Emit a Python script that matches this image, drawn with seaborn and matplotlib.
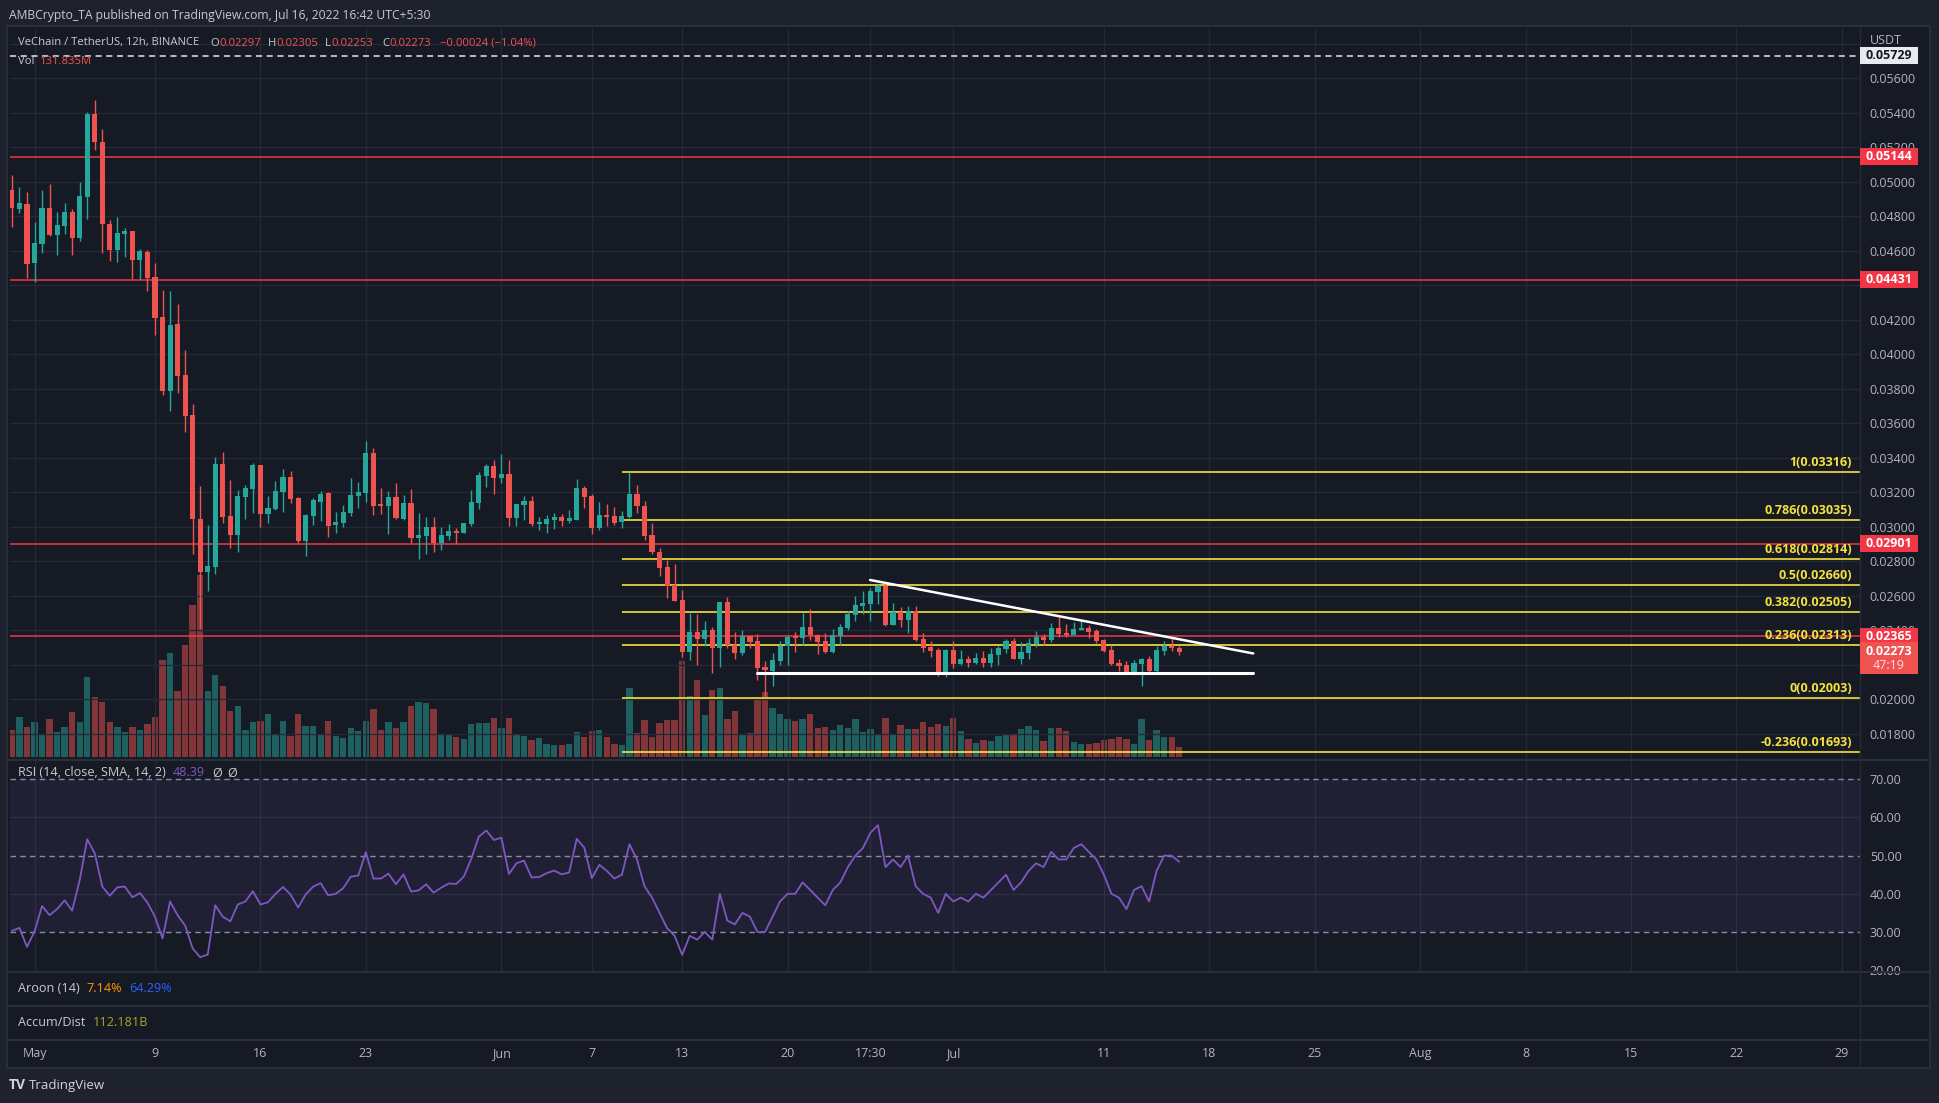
import numpy as np
import pandas as pd
import matplotlib
matplotlib.use("Agg")
import matplotlib.pyplot as plt
import seaborn as sns
from matplotlib.patches import Rectangle
from matplotlib.lines import Line2D
from matplotlib.transforms import blended_transform_factory

# ---------------- data ----------------
first_candle = "2022-04-29 12:00"
open_ = [0.04951,0.04841,0.04870,0.04530,0.04640,0.04847,0.04690,0.04744,0.04823,0.04673,
         0.04910,0.05391,0.05229,0.04754,0.04603,0.04696,0.04713,0.04545,0.04591,0.04447,
         0.04215,0.03786,0.04174,0.03879,0.03646,0.03044,0.02738,0.02767,0.03362,0.03061,
         0.02953,0.03173,0.03219,0.03357,0.03075,0.03101,0.03202,0.03287,0.03165,0.02916,
         0.03063,0.03144,0.03194,0.03011,0.03022,0.03080,0.03179,0.03196,0.03426,0.03125,
         0.03121,0.03171,0.03046,0.03136,0.02935,0.02947,0.02997,0.02904,0.02947,0.02974,
         0.02964,0.03016,0.03138,0.03293,0.03351,0.03281,0.03304,0.03049,0.03125,0.03148,
         0.03015,0.03015,0.03038,0.03055,0.03032,0.03038,0.03223,0.03177,0.02991,0.03067,
         0.03061,0.03026,0.03055,0.03189,0.03119,0.02951,0.02852,0.02765,0.02663,0.02574,
         0.02275,0.02391,0.02350,0.02402,0.02298,0.02562,0.02315,0.02269,0.02367,0.02338,
         0.02188,0.02165,0.02222,0.02307,0.02360,0.02356,0.02418,0.02371,0.02336,0.02273,
         0.02365,0.02412,0.02487,0.02539,0.02551,0.02620,0.02655,0.02429,0.02504,0.02458,
         0.02510,0.02348,0.02302,0.02284,0.02157,0.02284,0.02203,0.02232,0.02209,0.02238,
         0.02209,0.02255,0.02290,0.02336,0.02232,0.02267,0.02319,0.02360,0.02342,0.02412,
         0.02383,0.02371,0.02400,0.02412,0.02394,0.02342,0.02284,0.02209,0.02197,0.02145,
         0.02203,0.02232,0.02162,0.02279,0.02307,0.02297]
high = [0.05038,0.04968,0.04939,0.04765,0.04951,0.04986,0.04823,0.04875,0.04841,0.04997,
        0.05403,0.05472,0.05304,0.04777,0.04794,0.04731,0.04713,0.04609,0.04603,0.04528,
        0.04371,0.04365,0.04290,0.04024,0.03710,0.03235,0.03009,0.03403,0.03432,0.03270,
        0.03212,0.03241,0.03368,0.03357,0.03177,0.03264,0.03333,0.03322,0.03171,0.03073,
        0.03165,0.03206,0.03200,0.03084,0.03125,0.03281,0.03258,0.03496,0.03455,0.03223,
        0.03206,0.03252,0.03183,0.03218,0.03078,0.03055,0.03055,0.02997,0.03015,0.02991,
        0.03020,0.03212,0.03316,0.03362,0.03386,0.03420,0.03386,0.03131,0.03177,0.03177,
        0.03055,0.03067,0.03078,0.03073,0.03096,0.03275,0.03235,0.03189,0.03142,0.03131,
        0.03113,0.03090,0.03316,0.03241,0.03148,0.03020,0.02876,0.02806,0.02783,0.02632,
        0.02501,0.02493,0.02452,0.02420,0.02562,0.02593,0.02391,0.02402,0.02367,0.02379,
        0.02223,0.02267,0.02336,0.02371,0.02388,0.02499,0.02522,0.02377,0.02383,0.02406,
        0.02435,0.02510,0.02597,0.02626,0.02644,0.02667,0.02673,0.02557,0.02533,0.02539,
        0.02539,0.02383,0.02336,0.02296,0.02290,0.02336,0.02284,0.02250,0.02267,0.02279,
        0.02296,0.02307,0.02348,0.02354,0.02331,0.02354,0.02394,0.02377,0.02441,0.02481,
        0.02435,0.02447,0.02458,0.02429,0.02406,0.02348,0.02313,0.02232,0.02220,0.02226,
        0.02238,0.02250,0.02307,0.02336,0.02354,0.02305]
low = [0.04738,0.04819,0.04441,0.04420,0.04586,0.04684,0.04574,0.04696,0.04574,0.04655,
       0.04783,0.05183,0.04586,0.04539,0.04534,0.04562,0.04435,0.04429,0.04365,0.04111,
       0.03763,0.03670,0.03774,0.03550,0.02843,0.02408,0.02628,0.02727,0.03022,0.02878,
       0.02854,0.03046,0.03080,0.02999,0.03022,0.03098,0.03086,0.03138,0.02905,0.02831,
       0.03011,0.03034,0.02941,0.02964,0.02999,0.03063,0.03109,0.03142,0.03069,0.03075,
       0.02959,0.03046,0.03040,0.02906,0.02814,0.02843,0.02854,0.02866,0.02924,0.02901,
       0.02964,0.03005,0.03103,0.03229,0.03190,0.03252,0.03003,0.03003,0.03038,0.03003,
       0.02980,0.02962,0.02986,0.03003,0.03020,0.03038,0.03107,0.02957,0.02980,0.03003,
       0.03009,0.02991,0.03050,0.03078,0.02922,0.02841,0.02713,0.02588,0.02570,0.02246,
       0.02228,0.02199,0.02309,0.02153,0.02188,0.02298,0.02234,0.02257,0.02298,0.02112,
       0.02014,0.02078,0.02199,0.02199,0.02273,0.02313,0.02342,0.02261,0.02267,0.02267,
       0.02313,0.02400,0.02452,0.02493,0.02452,0.02551,0.02423,0.02429,0.02418,0.02383,
       0.02336,0.02273,0.02244,0.02134,0.02128,0.02180,0.02197,0.02186,0.02203,0.02186,
       0.02186,0.02197,0.02267,0.02232,0.02203,0.02232,0.02302,0.02313,0.02331,0.02360,
       0.02360,0.02371,0.02400,0.02354,0.02325,0.02273,0.02197,0.02162,0.02145,0.02139,
       0.02076,0.02157,0.02157,0.02255,0.02279,0.02253]
close = [0.04849,0.04875,0.04524,0.04644,0.04847,0.04690,0.04748,0.04823,0.04673,0.04916,
         0.05391,0.05229,0.04754,0.04603,0.04702,0.04713,0.04545,0.04597,0.04441,0.04209,
         0.03786,0.04168,0.03873,0.03643,0.03046,0.02738,0.02771,0.03362,0.03057,0.02953,
         0.03177,0.03223,0.03357,0.03075,0.03107,0.03206,0.03287,0.03162,0.02916,0.03067,
         0.03154,0.03189,0.03005,0.03026,0.03084,0.03183,0.03200,0.03426,0.03121,0.03121,
         0.03171,0.03051,0.03136,0.02935,0.02951,0.02997,0.02904,0.02951,0.02974,0.02964,
         0.03020,0.03142,0.03299,0.03351,0.03281,0.03304,0.03049,0.03131,0.03148,0.03015,
         0.03026,0.03044,0.03055,0.03032,0.03049,0.03223,0.03171,0.02991,0.03067,0.03055,
         0.03020,0.03061,0.03189,0.03119,0.02945,0.02852,0.02760,0.02657,0.02570,0.02275,
         0.02391,0.02350,0.02402,0.02298,0.02562,0.02315,0.02269,0.02367,0.02333,0.02182,
         0.02170,0.02226,0.02307,0.02360,0.02356,0.02418,0.02371,0.02331,0.02273,0.02371,
         0.02418,0.02493,0.02545,0.02557,0.02626,0.02655,0.02429,0.02504,0.02458,0.02510,
         0.02342,0.02296,0.02278,0.02157,0.02284,0.02203,0.02232,0.02209,0.02238,0.02209,
         0.02261,0.02296,0.02336,0.02232,0.02273,0.02325,0.02360,0.02342,0.02412,0.02377,
         0.02371,0.02406,0.02412,0.02389,0.02336,0.02278,0.02203,0.02192,0.02151,0.02209,
         0.02232,0.02162,0.02284,0.02307,0.02296,0.02273]
volume_m = [356,528,396,462,290,502,330,396,594,462,1056,792,726,462,396,330,396,356,436,528,
            1280,1373,871,1478,2006,2402,871,1082,937,607,673,356,462,475,568,290,475,277,568,409,
            409,304,475,277,251,383,343,475,634,356,462,383,462,673,726,713,634,304,290,264,
            238,436,449,449,515,383,515,290,277,224,251,172,158,158,172,330,264,343,356,264,
            172,158,911,317,488,264,449,488,488,1267,805,1016,554,884,911,502,607,304,317,766,
            858,647,568,502,475,502,568,383,396,356,422,383,502,330,370,290,515,304,422,370,
            370,462,396,436,409,515,343,238,185,224,211,277,290,304,370,409,356,211,383,383,
            343,198,172,172,185,224,238,264,238,172,502,224,356,264,264,132]
rsi = [30.3,31.1,26.1,30.1,36.8,34.4,36.0,38.3,35.6,43.6,54.3,50.6,41.9,39.5,41.7,41.9,39.1,40.2,37.7,34.0,
       28.3,38.0,34.4,31.7,25.7,23.4,24.1,37.0,34.0,32.8,37.2,38.0,40.7,37.2,37.8,40.0,41.8,39.8,36.4,39.8,
       41.9,42.8,39.6,40.0,41.5,44.5,44.8,50.9,44.0,44.0,45.3,42.5,45.1,40.6,40.9,42.5,40.3,41.6,42.7,42.6,
       44.5,49.2,55.0,56.6,54.1,54.7,45.2,48.0,48.7,44.3,44.4,45.4,46.1,45.1,45.6,54.4,52.1,44.1,47.6,46.0,
       44.0,45.0,53.0,49.0,42.0,39.0,35.0,31.0,29.0,24.0,29.0,28.0,30.0,28.0,40.0,33.0,32.0,35.0,34.0,30.0,
       30.0,34.0,38.0,40.0,40.0,43.0,41.0,39.0,37.0,41.0,43.0,47.0,50.0,52.0,56.0,58.0,47.0,49.0,47.0,50.0,
       42.0,40.0,39.0,35.0,40.0,38.0,39.0,38.0,40.0,39.0,41.0,43.0,45.0,41.0,43.0,46.0,48.0,47.0,51.0,49.0,
       49.0,52.0,53.0,51.0,49.0,45.0,40.0,39.0,36.0,41.0,42.0,38.0,46.0,50.0,50.0,48.39]

red_levels = [0.05144, 0.04431, 0.02901, 0.02365]
ath_level = 0.05729
last_price = 0.02273
fib_ratios = ["1", "0.786", "0.618", "0.5", "0.382", "0.236", "0", "-0.236"]
fib_prices = [0.03316, 0.03035, 0.02814, 0.02660, 0.02505, 0.02313, 0.02003, 0.01693]
fib_start = "2022-06-09 00:00"
trend_dates = ["2022-06-25 11:30", "2022-07-20 22:00"]
trend_prices = [0.02690, 0.02264]
support_dates = ["2022-06-18 00:00", "2022-07-20 22:00"]
support_prices = [0.02153, 0.02153]
tick_days = [0, 8, 15, 22, 31, 37, 43, 50, 55.5, 61, 71, 78, 85, 92, 99, 106, 113, 120]
tick_labels = ["May", "9", "16", "23", "Jun", "7", "13", "20", "17:30", "Jul",
               "11", "18", "25", "Aug", "8", "15", "22", "29"]
price_ticks = [0.018, 0.020, 0.022, 0.024, 0.026, 0.028, 0.030, 0.032, 0.034, 0.036, 0.038,
               0.040, 0.042, 0.044, 0.046, 0.048, 0.050, 0.052, 0.054, 0.056, 0.058]
hidden_price_labels = [0.022, 0.044, 0.058]
rsi_ticks = [70, 60, 50, 40, 30, 20]

# ---------------- style ----------------
W, H = 1940, 1103
BG = "#161a25"
OUTER = "#1e222d"
GRID = "#252935"
TXT = "#b2b5be"
LEG = "#c8cbd3"
GREEN = "#26a69a"
RED = "#ef5350"
LRED = "#f23645"
YEL = "#f5e23a"
PURP = "#7e57c2"

sns.set_theme(style="dark", rc={"axes.facecolor": BG, "figure.facecolor": OUTER})
plt.rcParams["font.family"] = ["Open Sans", "DejaVu Sans"]

fig = plt.figure(figsize=(W / 100, H / 100), dpi=100)
fig.patch.set_facecolor(OUTER)
renderer = fig.canvas.get_renderer()


def rect_px(x0, y0, x1, y1):
    return [x0 / W, 1 - y1 / H, (x1 - x0) / W, (y1 - y0) / H]


fig.add_artist(Rectangle((7 / W, 1 - 1068 / H), (1930 - 7) / W, (1068 - 26) / H,
                         transform=fig.transFigure, facecolor=BG, edgecolor="#2a2e39",
                         lw=1.5, zorder=-5))

dates = pd.date_range(first_candle, periods=len(close), freq="12h")
origin = pd.Timestamp("2022-05-01")
t = ((dates - origin) / pd.Timedelta(days=1)).values.astype(float)
o = np.array(open_); c = np.array(close); hi = np.array(high); lo = np.array(low)
up = c >= o
col = np.where(up, GREEN, RED)


def tday(s):
    return (pd.Timestamp(s) - origin) / pd.Timedelta(days=1)


XL = (-1.627, 121.2)
PRICE_LIM = (0.016464, 0.058899)

# ---------- main pane ----------
ax_vol = fig.add_axes(rect_px(10, 28, 1860, 760))
ax_vol.set_facecolor(BG)
ax_vol.bar(t, volume_m, width=0.42, color=col, alpha=0.5, linewidth=0)
ax_vol.set_xlim(XL)
ax_vol.set_ylim(-39.6, 9622.8)
ax_vol.axis("off")

ax = fig.add_axes(rect_px(10, 28, 1860, 760))
ax.set_facecolor("none")
ax.set_xlim(XL)
ax.set_ylim(PRICE_LIM)
for s in ax.spines.values():
    s.set_visible(False)
for pt in price_ticks:
    ax.axhline(pt, color=GRID, lw=1, zorder=0)
for d in tick_days:
    ax.axvline(d, color=GRID, lw=1, zorder=0)

ax.vlines(t, lo, hi, colors=col, lw=1.0, zorder=3)
body_h = np.maximum(np.abs(c - o), 0.00007)
ax.bar(t, body_h, bottom=np.minimum(o, c), width=0.34, color=col, linewidth=0, zorder=4)

for lv in red_levels:
    ax.axhline(lv, color=LRED, lw=1.1, zorder=2)
ax.axhline(ath_level, color="#e6e6e6", lw=1.1, ls=(0, (4, 3)), zorder=2)

fs = tday(fib_start)
for r, p in zip(fib_ratios, fib_prices):
    ax.plot([fs, XL[1] + 1], [p, p], color=YEL, lw=1.2, zorder=2, solid_capstyle="butt")
ax.plot([tday(d) for d in trend_dates], trend_prices, color="white", lw=1.8, zorder=5)
ax.plot([tday(d) for d in support_dates], support_prices, color="white", lw=2.2, zorder=5)

ax.yaxis.tick_right()
ax.set_yticks(price_ticks)
ax.set_yticklabels(["" if any(abs(p - hp) < 1e-9 for hp in hidden_price_labels) else f"{p:.5f}"
                    for p in price_ticks])
ax.tick_params(axis="y", length=0, pad=7, labelsize=9, labelcolor=TXT)
ax.set_xticks([])
ax.grid(False)

# ---------- RSI pane ----------
ax_rsi = fig.add_axes(rect_px(10, 760, 1860, 972))
ax_rsi.set_facecolor(BG)
ax_rsi.set_xlim(XL)
ax_rsi.set_ylim(19.52, 75.06)
for s in ax_rsi.spines.values():
    s.set_visible(False)
for d in tick_days:
    ax_rsi.axvline(d, color=GRID, lw=1, zorder=0)
for g in [60, 40]:
    ax_rsi.axhline(g, color=GRID, lw=1, zorder=0)
ax_rsi.axhspan(30, 70, color=PURP, alpha=0.10, lw=0, zorder=0)
for g in [70, 50, 30]:
    ax_rsi.axhline(g, color="#8a8d96", lw=1.0, ls=(0, (4, 3)), zorder=1)
sns.lineplot(x=t, y=rsi, ax=ax_rsi, color=PURP, lw=1.3, zorder=3)
ax_rsi.yaxis.tick_right()
ax_rsi.set_yticks(rsi_ticks)
ax_rsi.set_yticklabels([f"{v:.2f}" for v in rsi_ticks])
ax_rsi.tick_params(axis="y", length=0, pad=7, labelsize=9, labelcolor=TXT)
ax_rsi.set_xticks([])
ax_rsi.set_xlabel(""); ax_rsi.set_ylabel("")
ax_rsi.grid(False)

# ---------- empty Aroon / Accum panes & time axis ----------
for (y0, y1) in [(972, 1006), (1006, 1040), (1040, 1067)]:
    a = fig.add_axes(rect_px(10, y0, 1860, y1))
    a.set_facecolor(BG)
    a.set_xlim(XL)
    a.set_xticks([]); a.set_yticks([])
    for s in a.spines.values():
        s.set_visible(False)
    ax_time = a
trans_t = blended_transform_factory(ax_time.transData, ax_time.transAxes)
for d, lab in zip(tick_days, tick_labels):
    ax_time.text(d, 0.5, lab, transform=trans_t, ha="center", va="center",
                 color=TXT, fontsize=9)


def hline_px(y, x0=7, x1=1930, color="#2a2e39", lw=1.5):
    fig.add_artist(Line2D([x0 / W, x1 / W], [1 - y / H, 1 - y / H], transform=fig.transFigure,
                          color=color, lw=lw, zorder=6))


for y in [760, 972, 1006, 1040]:
    hline_px(y)
fig.add_artist(Line2D([1860 / W, 1860 / W], [1 - 26 / H, 1 - 1068 / H], transform=fig.transFigure,
                      color="#262a35", lw=1.0, zorder=6))


# ---------- price labels (boxes) ----------
def ypix(axis, val):
    return H - axis.transData.transform((0, val))[1]


def box_label(val, face, txtc, h=17):
    yc = ypix(ax, val)
    fig.add_artist(Rectangle((1860 / W, 1 - (yc + h / 2) / H), 58 / W, h / H,
                             transform=fig.transFigure, facecolor=face, edgecolor="none", zorder=7))
    fig.text(1889 / W, 1 - yc / H, f"{val:.5f}", color=txtc, fontsize=9,
             fontweight="bold", ha="center", va="center", zorder=8)


for lv in red_levels:
    box_label(lv, LRED, "white")
box_label(ath_level, "#e9eaee", "#131722")
yc = ypix(ax, last_price)
fig.add_artist(Rectangle((1860 / W, 1 - (yc + 22) / H), 58 / W, 32 / H, transform=fig.transFigure,
                         facecolor="#ef5350", edgecolor="none", zorder=7))
fig.text(1889 / W, 1 - yc / H, f"{last_price:.5f}", color="white", fontsize=9,
         fontweight="bold", ha="center", va="center", zorder=8)
fig.text(1889 / W, 1 - (yc + 14) / H, "47:19", color="#fbe0df", fontsize=9,
         ha="center", va="center", zorder=8)
fig.text(1870 / W, 1 - 41 / H, "USDT", color=TXT, fontsize=9, ha="left", va="center")

for r, p in zip(fib_ratios, fib_prices):
    yl = ypix(ax, p)
    fig.text(1852 / W, 1 - (yl - 3) / H, f"{r}({p:.5f})", color=YEL, fontsize=9,
             fontweight="bold", ha="right", va="bottom", zorder=8)


# ---------- texts fitted to the reference widths ----------
def fit_size(s, target_px, base=10.0):
    tmp = fig.text(0, 0, s, fontsize=base)
    w = tmp.get_window_extent(renderer=renderer).width
    tmp.remove()
    return 1.05 * base * target_px / w


def put(x, y, s, colr, size, ha="left"):
    return fig.text(x / W, 1 - y / H, s, color=colr, fontsize=size, ha=ha, va="center", zorder=9)


def after(tobj):
    bb = tobj.get_window_extent(renderer=renderer)
    return bb.x1


def put_seq(x, y, parts, size):
    for s, colr, gap in parts:
        tx = put(x, y, s, colr, size)
        x = after(tx) + gap


hdr = "AMBCrypto_TA published on TradingView.com, Jul 16, 2022 16:42 UTC+5:30"
put(9, 15, hdr, "#c8cbd3", fit_size(hdr, 405))

leg_size = fit_size("VeChain / TetherUS, 12h, BINANCE", 172)
put(18, 43, "VeChain / TetherUS, 12h, BINANCE", LEG, leg_size)
for x0, letter, val in [(210, "O", "0.02297"), (268, "H", "0.02305"),
                        (325, "L", "0.02253"), (382, "C", "0.02273")]:
    tl = put(x0, 43, letter, LEG, leg_size)
    put(after(tl) + 0.5, 43, val, RED, leg_size)
put(440, 43, "\u22120.00024 (\u22121.04%)", RED, leg_size)
put_seq(18, 61, [("Vol", LEG, 6), ("131.835M", RED, 0)], leg_size)

ind_size = fit_size("RSI (14, close, SMA, 14, 2)", 140)
put_seq(18, 773, [("RSI (14, close, SMA, 14, 2)", LEG, 7), ("48.39", PURP, 7),
                  ("\u00d8", LEG, 6), ("\u00d8", LEG, 0)], ind_size)
put_seq(18, 988, [("Aroon (14)", LEG, 7), ("7.14%", "#ff9800", 7), ("64.29%", "#2962ff", 0)],
        ind_size)
put_seq(18, 1022, [("Accum/Dist", LEG, 7), ("112.181B", "#a6a622", 0)], ind_size)

fig.text(9 / W, 1 - 1085 / H, "TV", color="#d1d4dc", fontsize=10, fontweight="bold",
         ha="left", va="center")
fig.text(29 / W, 1 - 1085 / H, "TradingView", color="#d1d4dc", fontsize=9.5, ha="left", va="center")

fig.savefig("out.png", dpi=100, facecolor=OUTER)
